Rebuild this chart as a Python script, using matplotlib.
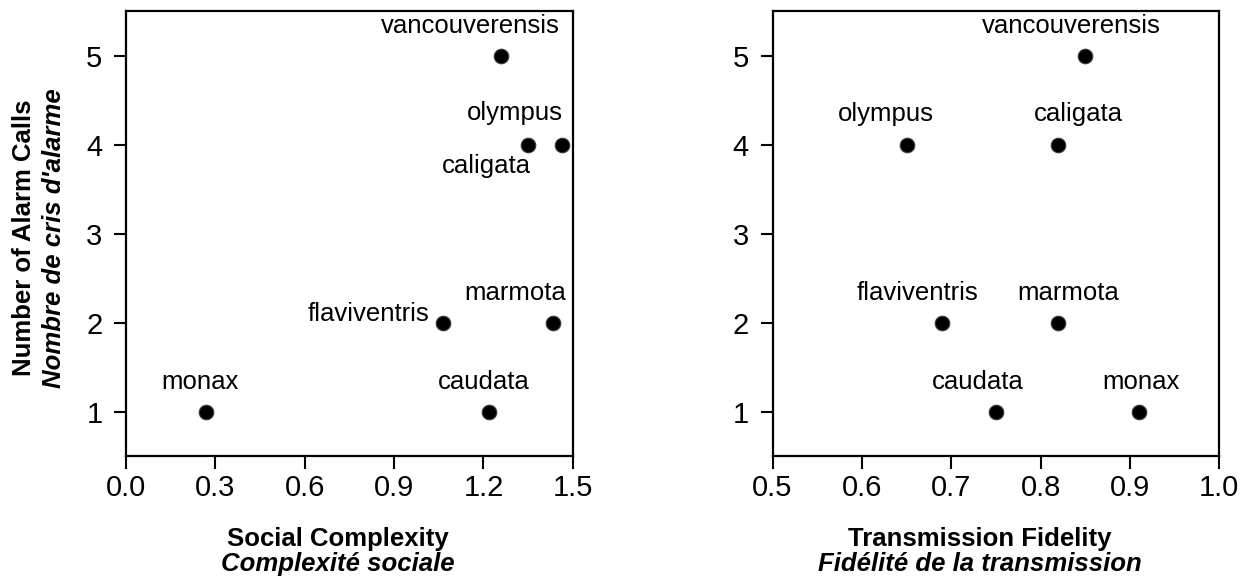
import numpy as np
import matplotlib.pyplot as plt

plt.rcParams['font.family'] = ['Liberation Sans', 'DejaVu Sans']

# species names and values
species = ['vancouverensis', 'olympus', 'caligata', 'marmota', 'flaviventris', 'caudata', 'monax']
alarm_calls = [5, 4, 4, 2, 2, 1, 1]
social_complexity = [1.26, 1.465, 1.35, 1.435, 1.065, 1.22, 0.27]
transmission_fidelity = [0.85, 0.65, 0.82, 0.82, 0.69, 0.75, 0.91]

# label offsets (pixels) for each panel
left_offsets = {'vancouverensis': (-31, 30), 'olympus': (-48, 32), 'caligata': (-42, -21),
                'marmota': (-38, 30), 'flaviventris': (-75, 9), 'caudata': (-6, 30),
                'monax': (-6, 30)}
right_offsets = {'vancouverensis': (-14, 30), 'olympus': (-21, 31), 'caligata': (20, 31),
                 'marmota': (10, 30), 'flaviventris': (-25, 30), 'caudata': (-18, 30),
                 'monax': (2, 30)}

fig = plt.figure(figsize=(12.48, 5.81), dpi=100)
ax1 = fig.add_axes([0.101, 0.215, 0.358, 0.766])
ax2 = fig.add_axes([0.619, 0.215, 0.358, 0.766])


def draw(ax, xs, offsets):
    ax.scatter(xs, alarm_calls, s=110, color='black', edgecolor='#3a3a3a',
               linewidth=0.8, zorder=3)
    for name, x, y in zip(species, xs, alarm_calls):
        dx, dy = offsets[name]
        ax.annotate(name, (x, y), xytext=(dx, dy), textcoords='offset pixels',
                    ha='center', va='center', fontsize=18.5)
    ax.set_ylim(0.5, 5.5)
    ax.set_yticks([1, 2, 3, 4, 5])
    for sp in ax.spines.values():
        sp.set_linewidth(1.6)
    ax.tick_params(direction='out', length=9, width=1.5, labelsize=21)
    ax.tick_params(axis='x', pad=4)
    ax.tick_params(axis='y', pad=8)


draw(ax1, social_complexity, left_offsets)
ax1.set_xlim(0, 1.5)
ax1.set_xticks([0.0, 0.3, 0.6, 0.9, 1.2, 1.5])
ax1.set_xticklabels(['0.0', '0.3', '0.6', '0.9', '1.2', '1.5'])

draw(ax2, transmission_fidelity, right_offsets)
ax2.set_xlim(0.5, 1.0)
ax2.set_xticks([0.5, 0.6, 0.7, 0.8, 0.9, 1.0])
ax2.set_xticklabels(['0.5', '0.6', '0.7', '0.8', '0.9', '1.0'])

# two-line axis labels: bold English, bold italic French
fig.text(0.271, 0.072, 'Social Complexity', ha='center', va='center',
         fontsize=18.5, fontweight='bold')
fig.text(0.271, 0.029, 'Complexité sociale', ha='center', va='center',
         fontsize=18.5, fontweight='bold', style='italic')
fig.text(0.785, 0.072, 'Transmission Fidelity', ha='center', va='center',
         fontsize=18.5, fontweight='bold')
fig.text(0.785, 0.029, 'Fidélité de la transmission', ha='center', va='center',
         fontsize=18.5, fontweight='bold', style='italic')
fig.text(0.019, 0.59, 'Number of Alarm Calls', ha='center', va='center',
         rotation=90, fontsize=18.5, fontweight='bold')
fig.text(0.043, 0.59, "Nombre de cris d'alarme", ha='center', va='center',
         rotation=90, fontsize=18.5, fontweight='bold', style='italic')

fig.savefig('out.png', dpi=100)
